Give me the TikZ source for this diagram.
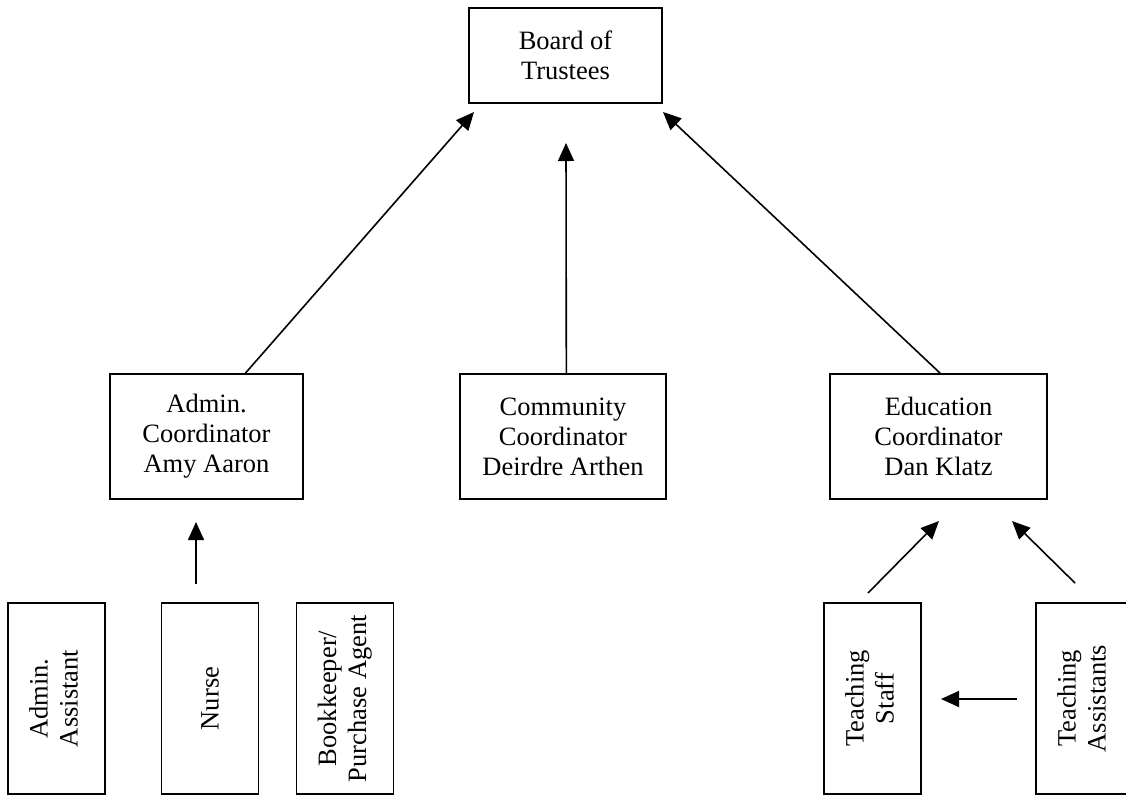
\documentclass[tikz,border=0pt]{standalone}
\usepackage{fontspec}
\setmainfont{Liberation Serif}
\usetikzlibrary{arrows.meta,calc}
\begin{document}
\begin{tikzpicture}[x=1pt,y=-1pt,
  box/.style={draw,line width=1.8pt,inner sep=0pt,align=center,font=\fontsize{26.5}{30}\selectfont},
  hbox/.style={box,minimum width=193pt,minimum height=125pt},
  vbox/.style={box,minimum width=97pt,minimum height=191pt},
  arr/.style={line width=1.6pt,-{Triangle[length=18pt,width=16pt]}}]
\useasboundingbox (0,0) rectangle (1126,796);
% top
\node[box,minimum width=193pt,minimum height=95pt] (board) at (565.5,55.5) {Board of\\Trustees};
% coordinators
\node[hbox] (admin) at (206.5,436.5) {Admin.\\Coordinator\\Amy Aaron};
\node[hbox,minimum width=206pt] (comm) at (563,436.5) {Community\\Coordinator\\Deirdre Arthen};
\node[hbox,minimum width=217pt] (edu) at (938.5,436.5) {Education\\Coordinator\\Dan Klatz};
% bottom row
\node[vbox] (aa) at (56.5,698.5) {\rotatebox{90}{\begin{tabular}{@{}c@{}}Admin.\\Assistant\end{tabular}}};
\node[vbox] (nurse) at (210,698.5) {\rotatebox{90}{Nurse}};
\node[vbox] (book) at (345,698.5) {\rotatebox{90}{\begin{tabular}{@{}c@{}}Bookkeeper/\\Purchase Agent\end{tabular}}};
\node[vbox] (ts) at (872.5,698.5) {\rotatebox{90}{\begin{tabular}{@{}c@{}}Teaching\\Staff\end{tabular}}};
\node[vbox] (ta) at (1084.5,698.5) {\rotatebox{90}{\begin{tabular}{@{}c@{}}Teaching\\Assistants\end{tabular}}};
% arrow ends
\coordinate (tipA) at (474,112);
\coordinate (tipC) at (566,143);
\coordinate (tipE) at (663,112);
\coordinate (n0) at (196,584);
\coordinate (n1) at (196,522);
\coordinate (s0) at (868,593);
\coordinate (s1) at (939,521);
\coordinate (a0) at (1075,583);
\coordinate (a1) at (1012,521);
\coordinate (h0) at (1017,699);
\coordinate (h1) at (941,699);
% connectors
\draw[arr] ($(admin.north west)!0.7!(admin.north east)$) -- (tipA);
\draw[arr] ($(comm.north west)!0.516!(comm.north east)$) -- (tipC);
\draw[arr] ($(edu.north west)!0.507!(edu.north east)$) -- (tipE);
\draw[arr] (n0) -- (n1);
\draw[arr] (s0) -- (s1);
\draw[arr] (a0) -- (a1);
\draw[arr] (h0) -- (h1);
\end{tikzpicture}
\end{document}
